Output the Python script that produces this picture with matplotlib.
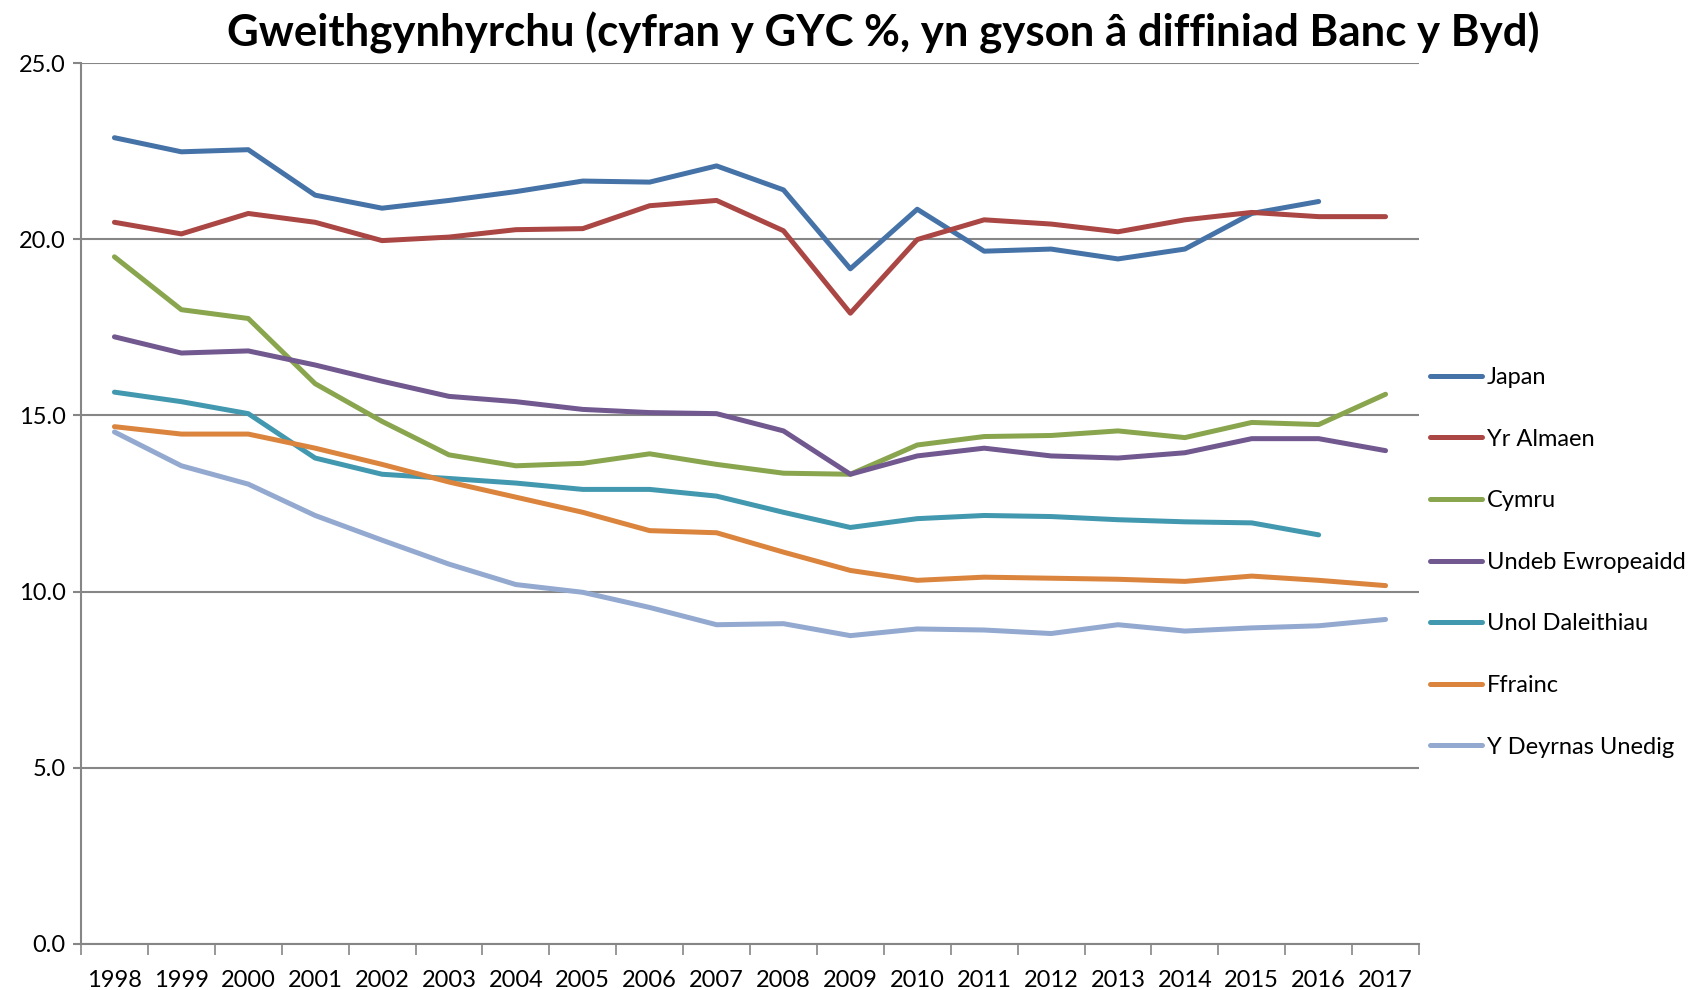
import numpy as np
import matplotlib
matplotlib.use("Agg")
import matplotlib.pyplot as plt

years = [str(y) for y in range(1998, 2018)]

japan = [22.88, 22.48, 22.54, 21.25, 20.88, 21.10, 21.35, 21.65, 21.62, 22.08,
         21.40, 19.16, 20.85, 19.66, 19.72, 19.44, 19.72, 20.73, 21.07, np.nan]
yr_almaen = [20.48, 20.15, 20.73, 20.48, 19.96, 20.06, 20.27, 20.30, 20.95, 21.10,
             20.24, 17.90, 19.99, 20.55, 20.43, 20.21, 20.55, 20.76, 20.64, 20.64]
cymru = [19.50, 18.00, 17.75, 15.90, 14.83, 13.88, 13.57, 13.64, 13.91, 13.61,
         13.36, 13.33, 14.16, 14.40, 14.43, 14.56, 14.37, 14.80, 14.74, 15.60]
undeb = [17.23, 16.77, 16.83, 16.43, 15.97, 15.54, 15.39, 15.17, 15.08, 15.05,
         14.56, 13.33, 13.85, 14.07, 13.85, 13.79, 13.94, 14.34, 14.34, 14.00]
unol = [15.66, 15.39, 15.05, 13.79, 13.33, 13.21, 13.08, 12.90, 12.90, 12.71,
        12.25, 11.82, 12.07, 12.16, 12.13, 12.04, 11.98, 11.95, 11.61, np.nan]
ffrainc = [14.68, 14.47, 14.47, 14.07, 13.61, 13.11, 12.68, 12.25, 11.73, 11.67,
           11.12, 10.60, 10.32, 10.41, 10.38, 10.35, 10.29, 10.44, 10.32, 10.17]
y_deyrnas = [14.53, 13.57, 13.05, 12.16, 11.46, 10.78, 10.20, 9.98, 9.55, 9.06,
             9.09, 8.75, 8.94, 8.91, 8.81, 9.06, 8.88, 8.97, 9.03, 9.21]

series = [
    ("Japan", japan, "#4572A7"),
    ("Yr Almaen", yr_almaen, "#AA4643"),
    ("Cymru", cymru, "#89A54E"),
    ("Undeb Ewropeaidd", undeb, "#71588F"),
    ("Unol Daleithiau", unol, "#4198AF"),
    ("Ffrainc", ffrainc, "#DB843D"),
    ("Y Deyrnas Unedig", y_deyrnas, "#93A9CF"),
]

plt.rcParams["font.family"] = ["Lato", "DejaVu Sans"]

fig = plt.figure(figsize=(16.98, 9.9), dpi=100)
ax = fig.add_axes([81 / 1698, 1 - 944 / 990, (1419 - 81) / 1698, (944 - 63) / 990])

x = np.arange(len(years))
for name, vals, color in series:
    ax.plot(x, vals, color=color, lw=3.6, label=name, solid_capstyle="round")

ax.set_xlim(-0.5, len(years) - 0.5)
ax.set_ylim(0, 25)
ax.set_yticks(np.arange(0, 25.1, 5))
ax.set_yticklabels([f"{v:.1f}" for v in np.arange(0, 25.1, 5)])
ax.yaxis.grid(True, color="#868686", lw=1.5)
ax.set_axisbelow(True)

ax.set_xticks(x)
ax.set_xticklabels(years)
ax.set_xticks(np.arange(-0.5, len(years)), minor=True)
ax.tick_params(axis="x", which="major", length=0, pad=19, labelsize=17)
ax.tick_params(axis="x", which="minor", length=8, color="#868686", width=1.2)
ax.tick_params(axis="y", length=6, color="#868686", width=1.5, labelsize=17, pad=5)

for side in ["top", "right"]:
    ax.spines[side].set_visible(False)
for side in ["left", "bottom"]:
    ax.spines[side].set_color("#868686")
    ax.spines[side].set_linewidth(1.5)

fig.suptitle("Gweithgynhyrchu (cyfran y GYC %, yn gyson â diffiniad Banc y Byd)",
             fontsize=31.5, fontweight="bold", x=0.52, y=0.988)

fig.legend(loc="center left", bbox_to_anchor=(1421 / 1698, 0.432), frameon=False,
           fontsize=17, labelspacing=1.72, handlelength=2.2, handletextpad=0.2,
           borderaxespad=0)

fig.savefig("out.png", dpi=100, facecolor="white")
